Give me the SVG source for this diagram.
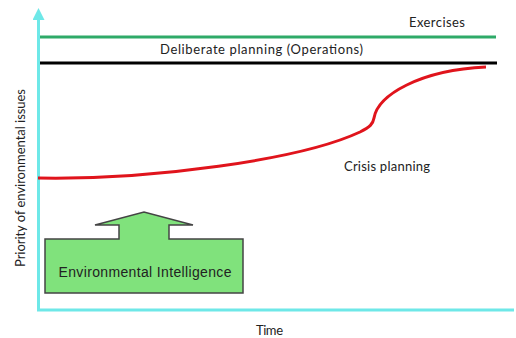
<svg xmlns="http://www.w3.org/2000/svg" width="516" height="338" viewBox="0 0 516 338">
<style>
.lbl{font-family:Lato,"Open Sans","Liberation Sans",sans-serif;font-size:13px;fill:#222}
.axis{stroke:#6ee8e8;stroke-width:3;fill:none}
</style>
<defs>
<marker id="ah" markerWidth="4" markerHeight="4" refX="2" refY="2" orient="auto" markerUnits="strokeWidth">
<path d="M0,0 L4,2 L0,4 Z" fill="#6ee8e8"/>
</marker>
</defs>
<rect width="516" height="338" fill="#fff"/>
<g id="connectors">
<path class="axis" d="M38.5,310 L38.5,14" marker-end="url(#ah)"/>
<path class="axis" d="M37,310 L514,310"/>
<path id="exercises-line" d="M40,37 L496,37" stroke="#2eaa68" stroke-width="3"/>
<path id="deliberate-line" d="M40,63 L497,63" stroke="#000" stroke-width="3"/>
<path id="crisis-curve" d="M38,178 C150,180 300,160 360,132 C370,127 373,124 374,118 C378,95 420,70 486,67" fill="none" stroke="#e0141c" stroke-width="3"/>
</g>
<g id="exercises"><text class="lbl" x="409" y="27" textLength="56">Exercises</text></g>
<g id="deliberate"><text class="lbl" x="160" y="54" textLength="203">Deliberate planning (Operations)</text></g>
<g id="crisis"><text class="lbl" x="344" y="171" textLength="86">Crisis planning</text></g>
<g id="time"><text class="lbl" x="256" y="335" textLength="27">Time</text></g>
<g id="ylabel"><text class="lbl" transform="translate(25,178) rotate(-90)" text-anchor="middle" font-size="12" textLength="178">Priority of environmental issues</text></g>
<g id="env-intel">
<path d="M45,239 L119,239 L119,225 L95,225 L144,212 L193,225 L169,225 L169,239 L243,239 L243,293 L45,293 Z" fill="#80e27c" stroke="#444" stroke-width="1.5"/>
<text x="145" y="277" text-anchor="middle" font-family="'Liberation Sans',Arial,sans-serif" font-size="14" fill="#222" textLength="173">Environmental Intelligence</text>
</g>
</svg>
